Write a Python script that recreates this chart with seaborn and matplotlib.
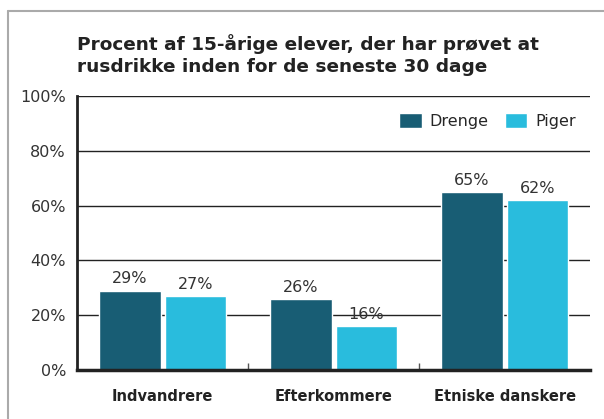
import pandas as pd
import seaborn as sns
import matplotlib.pyplot as plt
from matplotlib.lines import Line2D
from matplotlib.ticker import FixedLocator

categories = ["Indvandrere", "Efterkommere", "Etniske danskere"]
drenge = [29, 26, 65]
piger = [27, 16, 62]
series = ["Drenge", "Piger"]
yticks = [0, 20, 40, 60, 80, 100]
title_lines = ["Procent af 15-årige elever, der har prøvet at",
               "rusdrikke inden for de seneste 30 dage"]

df = pd.DataFrame({
    "gruppe": categories * 2,
    "køn": [series[0]] * 3 + [series[1]] * 3,
    "procent": drenge + piger,
})

sns.set_theme(style="white")
plt.rcParams['font.family'] = ['DejaVu Sans']

fig = plt.figure(figsize=(6.04, 4.19), dpi=100)
ax = fig.add_axes([0.1275, 0.117, 0.977 - 0.1275, 0.771 - 0.117])

sns.barplot(data=df, x="gruppe", y="procent", hue="køn", order=categories,
            hue_order=series, palette=["#185d74", "#29bcdd"],
            width=0.77, gap=0.06, saturation=1, ax=ax)

for c in ax.containers:
    ax.bar_label(c, labels=[f"{v:.0f}%" for v in c.datavalues],
                 padding=3, fontsize=11.5, color="#333333")

ax.set_ylim(0, 100)
ax.set_yticks(yticks)
ax.set_yticklabels([f"{t}%" for t in yticks], fontsize=11.5, color="#333333")
ax.yaxis.grid(True, color="#222222", linewidth=1)
ax.set_axisbelow(True)
ax.tick_params(axis="y", length=0, pad=8)
ax.set_xlabel("")
ax.set_ylabel("")
ax.set_xticks(range(3))
ax.set_xticklabels(categories, fontsize=10.5, fontweight="bold", color="#222222")
ax.tick_params(axis="x", which="major", length=0, pad=14)
ax.xaxis.set_minor_locator(FixedLocator([0.5, 1.5]))
ax.tick_params(axis="x", which="minor", direction="in", length=5,
               width=1, color="#555555", bottom=True)
ax.set_xlim(-0.5, 2.5)

for s in ["top", "right"]:
    ax.spines[s].set_visible(False)
ax.spines["left"].set_color("#222222")
ax.spines["left"].set_linewidth(2)
ax.spines["bottom"].set_color("#222222")
ax.spines["bottom"].set_linewidth(2.5)

ax.legend(loc="upper right", bbox_to_anchor=(1.0, 0.99), frameon=False,
          ncol=2, fontsize=11.5, handlelength=1.4, handleheight=1.1,
          columnspacing=1.0, handletextpad=0.5)

for y, line in zip([0.8807, 0.8282], title_lines):
    fig.text(0.128, y, line, fontsize=13.3, fontweight="bold",
             color="#222222", va="baseline", ha="left")

# figure frame (left and top edges visible)
fig.add_artist(Line2D([0.013, 0.013], [0.0, 0.974], transform=fig.transFigure,
                      color="#aaaaaa", linewidth=1.5))
fig.add_artist(Line2D([0.013, 1.0], [0.974, 0.974], transform=fig.transFigure,
                      color="#aaaaaa", linewidth=1.5))

fig.savefig("out.png", dpi=100)
